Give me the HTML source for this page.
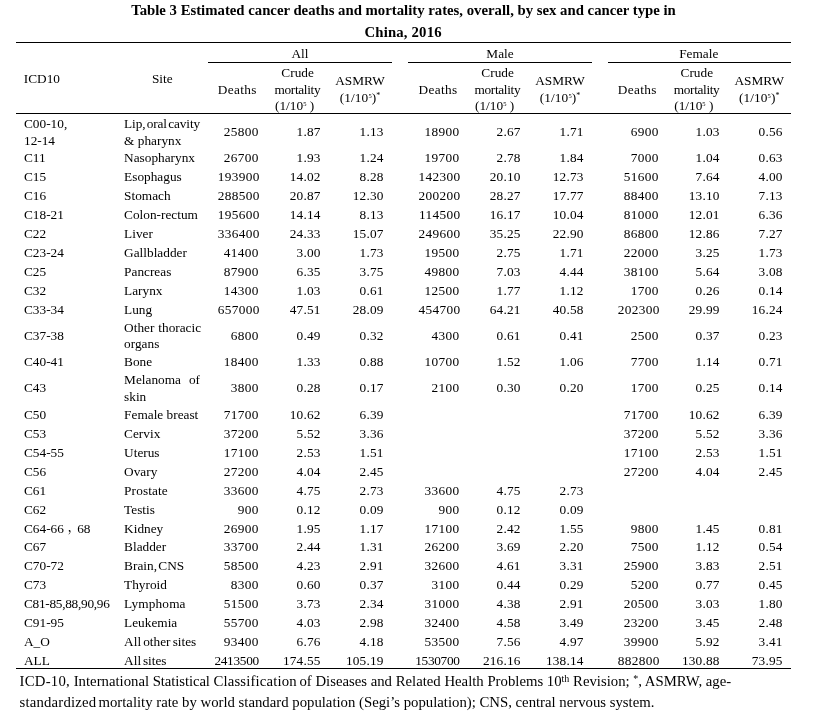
<!DOCTYPE html>
<html><head><meta charset="utf-8"><title>Table 3</title>
<style>
html,body{margin:0;padding:0;background:#fff;}
body{width:815px;height:718px;position:relative;overflow:hidden;font-family:"Liberation Serif","Noto Sans CJK SC",serif;color:#000;}
.t{position:absolute;letter-spacing:0;font-size:13.3px;line-height:16px;height:16px;white-space:nowrap;}
.ttl{position:absolute;left:0;width:815px;text-align:center;font-weight:bold;font-size:14.75px;line-height:18px;white-space:nowrap;}
.ft{position:absolute;font-size:14.75px;line-height:18px;white-space:nowrap;}
.r{position:absolute;height:1px;background:#000;}
.cj{font-family:"Noto Serif CJK SC","Noto Sans CJK SC",serif;line-height:0;position:relative;left:3.5px;top:-2.5px;}
.s5{font-size:6.5px;vertical-align:4.4px;line-height:0;}
.sa{font-size:8px;vertical-align:3.8px;line-height:0;}
.sf{font-size:10px;vertical-align:4.2px;line-height:0;}
#w{position:absolute;left:0;top:0;width:815px;height:718px;will-change:transform;}
</style></head><body><div id="w">
<div class="ttl" style="top:1px;left:-4px">Table 3 Estimated cancer deaths and mortality rates, overall, by sex and cancer type in</div>
<div class="ttl" style="top:23px;left:-4.4px;letter-spacing:.17px">China, 2016</div>
<div class="r" style="left:16px;width:775px;top:42px"></div>
<div class="r" style="left:208px;width:184px;top:62px"></div>
<div class="r" style="left:408px;width:184px;top:62px"></div>
<div class="r" style="left:608px;width:183px;top:62px"></div>
<div class="r" style="left:16px;width:775px;top:113px"></div>
<div class="r" style="left:16px;width:775px;top:668px"></div>
<div class="t" style="left:24.0px;top:116px;">C00-10,</div>
<div class="t" style="left:24.0px;top:133px;">12-14</div>
<div class="t" style="left:124.1px;top:116px;letter-spacing:-0.13px;word-spacing:-1.8px;">Lip, oral cavity</div>
<div class="t" style="left:124.1px;top:133px;">&amp; pharynx</div>
<div class="t" style="right:556.2px;top:124px;letter-spacing:0.35px;">25800</div>
<div class="t" style="right:494.35px;top:124px;letter-spacing:0.2px;">1.87</div>
<div class="t" style="right:431.35px;top:124px;letter-spacing:0.2px;">1.13</div>
<div class="t" style="right:355.4px;top:124px;letter-spacing:0.35px;">18900</div>
<div class="t" style="right:294.35px;top:124px;letter-spacing:0.2px;">2.67</div>
<div class="t" style="right:231.35px;top:124px;letter-spacing:0.2px;">1.71</div>
<div class="t" style="right:156.2px;top:124px;letter-spacing:0.35px;">6900</div>
<div class="t" style="right:95.35px;top:124px;letter-spacing:0.2px;">1.03</div>
<div class="t" style="right:32.35px;top:124px;letter-spacing:0.2px;">0.56</div>
<div class="t" style="left:24.0px;top:150px;">C11</div>
<div class="t" style="left:124.1px;top:150px;">Nasopharynx</div>
<div class="t" style="right:556.2px;top:150px;letter-spacing:0.35px;">26700</div>
<div class="t" style="right:494.35px;top:150px;letter-spacing:0.2px;">1.93</div>
<div class="t" style="right:431.35px;top:150px;letter-spacing:0.2px;">1.24</div>
<div class="t" style="right:355.4px;top:150px;letter-spacing:0.35px;">19700</div>
<div class="t" style="right:294.35px;top:150px;letter-spacing:0.2px;">2.78</div>
<div class="t" style="right:231.35px;top:150px;letter-spacing:0.2px;">1.84</div>
<div class="t" style="right:156.2px;top:150px;letter-spacing:0.35px;">7000</div>
<div class="t" style="right:95.35px;top:150px;letter-spacing:0.2px;">1.04</div>
<div class="t" style="right:32.35px;top:150px;letter-spacing:0.2px;">0.63</div>
<div class="t" style="left:24.0px;top:169px;">C15</div>
<div class="t" style="left:124.1px;top:169px;">Esophagus</div>
<div class="t" style="right:555.2px;top:169px;letter-spacing:0.35px;">193900</div>
<div class="t" style="right:494.35px;top:169px;letter-spacing:0.2px;">14.02</div>
<div class="t" style="right:431.35px;top:169px;letter-spacing:0.2px;">8.28</div>
<div class="t" style="right:354.4px;top:169px;letter-spacing:0.35px;">142300</div>
<div class="t" style="right:294.35px;top:169px;letter-spacing:0.2px;">20.10</div>
<div class="t" style="right:231.35px;top:169px;letter-spacing:0.2px;">12.73</div>
<div class="t" style="right:156.2px;top:169px;letter-spacing:0.35px;">51600</div>
<div class="t" style="right:95.35px;top:169px;letter-spacing:0.2px;">7.64</div>
<div class="t" style="right:32.35px;top:169px;letter-spacing:0.2px;">4.00</div>
<div class="t" style="left:24.0px;top:188px;">C16</div>
<div class="t" style="left:124.1px;top:188px;">Stomach</div>
<div class="t" style="right:555.2px;top:188px;letter-spacing:0.35px;">288500</div>
<div class="t" style="right:494.35px;top:188px;letter-spacing:0.2px;">20.87</div>
<div class="t" style="right:431.35px;top:188px;letter-spacing:0.2px;">12.30</div>
<div class="t" style="right:354.4px;top:188px;letter-spacing:0.35px;">200200</div>
<div class="t" style="right:294.35px;top:188px;letter-spacing:0.2px;">28.27</div>
<div class="t" style="right:231.35px;top:188px;letter-spacing:0.2px;">17.77</div>
<div class="t" style="right:156.2px;top:188px;letter-spacing:0.35px;">88400</div>
<div class="t" style="right:95.35px;top:188px;letter-spacing:0.2px;">13.10</div>
<div class="t" style="right:32.35px;top:188px;letter-spacing:0.2px;">7.13</div>
<div class="t" style="left:24.0px;top:207px;">C18-21</div>
<div class="t" style="left:124.1px;top:207px;">Colon-rectum</div>
<div class="t" style="right:555.2px;top:207px;letter-spacing:0.35px;">195600</div>
<div class="t" style="right:494.35px;top:207px;letter-spacing:0.2px;">14.14</div>
<div class="t" style="right:431.35px;top:207px;letter-spacing:0.2px;">8.13</div>
<div class="t" style="right:354.4px;top:207px;letter-spacing:0.35px;">114500</div>
<div class="t" style="right:294.35px;top:207px;letter-spacing:0.2px;">16.17</div>
<div class="t" style="right:231.35px;top:207px;letter-spacing:0.2px;">10.04</div>
<div class="t" style="right:156.2px;top:207px;letter-spacing:0.35px;">81000</div>
<div class="t" style="right:95.35px;top:207px;letter-spacing:0.2px;">12.01</div>
<div class="t" style="right:32.35px;top:207px;letter-spacing:0.2px;">6.36</div>
<div class="t" style="left:24.0px;top:226px;">C22</div>
<div class="t" style="left:124.1px;top:226px;">Liver</div>
<div class="t" style="right:555.2px;top:226px;letter-spacing:0.35px;">336400</div>
<div class="t" style="right:494.35px;top:226px;letter-spacing:0.2px;">24.33</div>
<div class="t" style="right:431.35px;top:226px;letter-spacing:0.2px;">15.07</div>
<div class="t" style="right:354.4px;top:226px;letter-spacing:0.35px;">249600</div>
<div class="t" style="right:294.35px;top:226px;letter-spacing:0.2px;">35.25</div>
<div class="t" style="right:231.35px;top:226px;letter-spacing:0.2px;">22.90</div>
<div class="t" style="right:156.2px;top:226px;letter-spacing:0.35px;">86800</div>
<div class="t" style="right:95.35px;top:226px;letter-spacing:0.2px;">12.86</div>
<div class="t" style="right:32.35px;top:226px;letter-spacing:0.2px;">7.27</div>
<div class="t" style="left:24.0px;top:245px;">C23-24</div>
<div class="t" style="left:124.1px;top:245px;">Gallbladder</div>
<div class="t" style="right:556.2px;top:245px;letter-spacing:0.35px;">41400</div>
<div class="t" style="right:494.35px;top:245px;letter-spacing:0.2px;">3.00</div>
<div class="t" style="right:431.35px;top:245px;letter-spacing:0.2px;">1.73</div>
<div class="t" style="right:355.4px;top:245px;letter-spacing:0.35px;">19500</div>
<div class="t" style="right:294.35px;top:245px;letter-spacing:0.2px;">2.75</div>
<div class="t" style="right:231.35px;top:245px;letter-spacing:0.2px;">1.71</div>
<div class="t" style="right:156.2px;top:245px;letter-spacing:0.35px;">22000</div>
<div class="t" style="right:95.35px;top:245px;letter-spacing:0.2px;">3.25</div>
<div class="t" style="right:32.35px;top:245px;letter-spacing:0.2px;">1.73</div>
<div class="t" style="left:24.0px;top:264px;">C25</div>
<div class="t" style="left:124.1px;top:264px;">Pancreas</div>
<div class="t" style="right:556.2px;top:264px;letter-spacing:0.35px;">87900</div>
<div class="t" style="right:494.35px;top:264px;letter-spacing:0.2px;">6.35</div>
<div class="t" style="right:431.35px;top:264px;letter-spacing:0.2px;">3.75</div>
<div class="t" style="right:355.4px;top:264px;letter-spacing:0.35px;">49800</div>
<div class="t" style="right:294.35px;top:264px;letter-spacing:0.2px;">7.03</div>
<div class="t" style="right:231.35px;top:264px;letter-spacing:0.2px;">4.44</div>
<div class="t" style="right:156.2px;top:264px;letter-spacing:0.35px;">38100</div>
<div class="t" style="right:95.35px;top:264px;letter-spacing:0.2px;">5.64</div>
<div class="t" style="right:32.35px;top:264px;letter-spacing:0.2px;">3.08</div>
<div class="t" style="left:24.0px;top:283px;">C32</div>
<div class="t" style="left:124.1px;top:283px;">Larynx</div>
<div class="t" style="right:556.2px;top:283px;letter-spacing:0.35px;">14300</div>
<div class="t" style="right:494.35px;top:283px;letter-spacing:0.2px;">1.03</div>
<div class="t" style="right:431.35px;top:283px;letter-spacing:0.2px;">0.61</div>
<div class="t" style="right:355.4px;top:283px;letter-spacing:0.35px;">12500</div>
<div class="t" style="right:294.35px;top:283px;letter-spacing:0.2px;">1.77</div>
<div class="t" style="right:231.35px;top:283px;letter-spacing:0.2px;">1.12</div>
<div class="t" style="right:156.2px;top:283px;letter-spacing:0.35px;">1700</div>
<div class="t" style="right:95.35px;top:283px;letter-spacing:0.2px;">0.26</div>
<div class="t" style="right:32.35px;top:283px;letter-spacing:0.2px;">0.14</div>
<div class="t" style="left:24.0px;top:302px;">C33-34</div>
<div class="t" style="left:124.1px;top:302px;">Lung</div>
<div class="t" style="right:555.2px;top:302px;letter-spacing:0.35px;">657000</div>
<div class="t" style="right:494.35px;top:302px;letter-spacing:0.2px;">47.51</div>
<div class="t" style="right:431.35px;top:302px;letter-spacing:0.2px;">28.09</div>
<div class="t" style="right:354.4px;top:302px;letter-spacing:0.35px;">454700</div>
<div class="t" style="right:294.35px;top:302px;letter-spacing:0.2px;">64.21</div>
<div class="t" style="right:231.35px;top:302px;letter-spacing:0.2px;">40.58</div>
<div class="t" style="right:155.2px;top:302px;letter-spacing:0.35px;">202300</div>
<div class="t" style="right:95.35px;top:302px;letter-spacing:0.2px;">29.99</div>
<div class="t" style="right:32.35px;top:302px;letter-spacing:0.2px;">16.24</div>
<div class="t" style="left:24.0px;top:328px;">C37-38</div>
<div class="t" style="left:124.1px;top:320px;word-spacing:0.6px;">Other thoracic</div>
<div class="t" style="left:124.1px;top:336px;">organs</div>
<div class="t" style="right:556.2px;top:328px;letter-spacing:0.35px;">6800</div>
<div class="t" style="right:494.35px;top:328px;letter-spacing:0.2px;">0.49</div>
<div class="t" style="right:431.35px;top:328px;letter-spacing:0.2px;">0.32</div>
<div class="t" style="right:355.4px;top:328px;letter-spacing:0.35px;">4300</div>
<div class="t" style="right:294.35px;top:328px;letter-spacing:0.2px;">0.61</div>
<div class="t" style="right:231.35px;top:328px;letter-spacing:0.2px;">0.41</div>
<div class="t" style="right:156.2px;top:328px;letter-spacing:0.35px;">2500</div>
<div class="t" style="right:95.35px;top:328px;letter-spacing:0.2px;">0.37</div>
<div class="t" style="right:32.35px;top:328px;letter-spacing:0.2px;">0.23</div>
<div class="t" style="left:24.0px;top:354px;">C40-41</div>
<div class="t" style="left:124.1px;top:354px;">Bone</div>
<div class="t" style="right:556.2px;top:354px;letter-spacing:0.35px;">18400</div>
<div class="t" style="right:494.35px;top:354px;letter-spacing:0.2px;">1.33</div>
<div class="t" style="right:431.35px;top:354px;letter-spacing:0.2px;">0.88</div>
<div class="t" style="right:355.4px;top:354px;letter-spacing:0.35px;">10700</div>
<div class="t" style="right:294.35px;top:354px;letter-spacing:0.2px;">1.52</div>
<div class="t" style="right:231.35px;top:354px;letter-spacing:0.2px;">1.06</div>
<div class="t" style="right:156.2px;top:354px;letter-spacing:0.35px;">7700</div>
<div class="t" style="right:95.35px;top:354px;letter-spacing:0.2px;">1.14</div>
<div class="t" style="right:32.35px;top:354px;letter-spacing:0.2px;">0.71</div>
<div class="t" style="left:24.0px;top:380px;">C43</div>
<div class="t" style="left:124.1px;top:372px;word-spacing:4.65px;">Melanoma of</div>
<div class="t" style="left:124.1px;top:389px;">skin</div>
<div class="t" style="right:556.2px;top:380px;letter-spacing:0.35px;">3800</div>
<div class="t" style="right:494.35px;top:380px;letter-spacing:0.2px;">0.28</div>
<div class="t" style="right:431.35px;top:380px;letter-spacing:0.2px;">0.17</div>
<div class="t" style="right:355.4px;top:380px;letter-spacing:0.35px;">2100</div>
<div class="t" style="right:294.35px;top:380px;letter-spacing:0.2px;">0.30</div>
<div class="t" style="right:231.35px;top:380px;letter-spacing:0.2px;">0.20</div>
<div class="t" style="right:156.2px;top:380px;letter-spacing:0.35px;">1700</div>
<div class="t" style="right:95.35px;top:380px;letter-spacing:0.2px;">0.25</div>
<div class="t" style="right:32.35px;top:380px;letter-spacing:0.2px;">0.14</div>
<div class="t" style="left:24.0px;top:407px;">C50</div>
<div class="t" style="left:124.1px;top:407px;">Female breast</div>
<div class="t" style="right:556.2px;top:407px;letter-spacing:0.35px;">71700</div>
<div class="t" style="right:494.35px;top:407px;letter-spacing:0.2px;">10.62</div>
<div class="t" style="right:431.35px;top:407px;letter-spacing:0.2px;">6.39</div>
<div class="t" style="right:156.2px;top:407px;letter-spacing:0.35px;">71700</div>
<div class="t" style="right:95.35px;top:407px;letter-spacing:0.2px;">10.62</div>
<div class="t" style="right:32.35px;top:407px;letter-spacing:0.2px;">6.39</div>
<div class="t" style="left:24.0px;top:426px;">C53</div>
<div class="t" style="left:124.1px;top:426px;">Cervix</div>
<div class="t" style="right:556.2px;top:426px;letter-spacing:0.35px;">37200</div>
<div class="t" style="right:494.35px;top:426px;letter-spacing:0.2px;">5.52</div>
<div class="t" style="right:431.35px;top:426px;letter-spacing:0.2px;">3.36</div>
<div class="t" style="right:156.2px;top:426px;letter-spacing:0.35px;">37200</div>
<div class="t" style="right:95.35px;top:426px;letter-spacing:0.2px;">5.52</div>
<div class="t" style="right:32.35px;top:426px;letter-spacing:0.2px;">3.36</div>
<div class="t" style="left:24.0px;top:445px;">C54-55</div>
<div class="t" style="left:124.1px;top:445px;">Uterus</div>
<div class="t" style="right:556.2px;top:445px;letter-spacing:0.35px;">17100</div>
<div class="t" style="right:494.35px;top:445px;letter-spacing:0.2px;">2.53</div>
<div class="t" style="right:431.35px;top:445px;letter-spacing:0.2px;">1.51</div>
<div class="t" style="right:156.2px;top:445px;letter-spacing:0.35px;">17100</div>
<div class="t" style="right:95.35px;top:445px;letter-spacing:0.2px;">2.53</div>
<div class="t" style="right:32.35px;top:445px;letter-spacing:0.2px;">1.51</div>
<div class="t" style="left:24.0px;top:464px;">C56</div>
<div class="t" style="left:124.1px;top:464px;">Ovary</div>
<div class="t" style="right:556.2px;top:464px;letter-spacing:0.35px;">27200</div>
<div class="t" style="right:494.35px;top:464px;letter-spacing:0.2px;">4.04</div>
<div class="t" style="right:431.35px;top:464px;letter-spacing:0.2px;">2.45</div>
<div class="t" style="right:156.2px;top:464px;letter-spacing:0.35px;">27200</div>
<div class="t" style="right:95.35px;top:464px;letter-spacing:0.2px;">4.04</div>
<div class="t" style="right:32.35px;top:464px;letter-spacing:0.2px;">2.45</div>
<div class="t" style="left:24.0px;top:483px;">C61</div>
<div class="t" style="left:124.1px;top:483px;letter-spacing:.12px;">Prostate</div>
<div class="t" style="right:556.2px;top:483px;letter-spacing:0.35px;">33600</div>
<div class="t" style="right:494.35px;top:483px;letter-spacing:0.2px;">4.75</div>
<div class="t" style="right:431.35px;top:483px;letter-spacing:0.2px;">2.73</div>
<div class="t" style="right:355.4px;top:483px;letter-spacing:0.35px;">33600</div>
<div class="t" style="right:294.35px;top:483px;letter-spacing:0.2px;">4.75</div>
<div class="t" style="right:231.35px;top:483px;letter-spacing:0.2px;">2.73</div>
<div class="t" style="left:24.0px;top:502px;">C62</div>
<div class="t" style="left:124.1px;top:502px;">Testis</div>
<div class="t" style="right:556.2px;top:502px;letter-spacing:0.35px;">900</div>
<div class="t" style="right:494.35px;top:502px;letter-spacing:0.2px;">0.12</div>
<div class="t" style="right:431.35px;top:502px;letter-spacing:0.2px;">0.09</div>
<div class="t" style="right:355.4px;top:502px;letter-spacing:0.35px;">900</div>
<div class="t" style="right:294.35px;top:502px;letter-spacing:0.2px;">0.12</div>
<div class="t" style="right:231.35px;top:502px;letter-spacing:0.2px;">0.09</div>
<div class="t" style="left:24.0px;top:521px;">C64-66<span class="cj">，</span>68</div>
<div class="t" style="left:124.1px;top:521px;">Kidney</div>
<div class="t" style="right:556.2px;top:521px;letter-spacing:0.35px;">26900</div>
<div class="t" style="right:494.35px;top:521px;letter-spacing:0.2px;">1.95</div>
<div class="t" style="right:431.35px;top:521px;letter-spacing:0.2px;">1.17</div>
<div class="t" style="right:355.4px;top:521px;letter-spacing:0.35px;">17100</div>
<div class="t" style="right:294.35px;top:521px;letter-spacing:0.2px;">2.42</div>
<div class="t" style="right:231.35px;top:521px;letter-spacing:0.2px;">1.55</div>
<div class="t" style="right:156.2px;top:521px;letter-spacing:0.35px;">9800</div>
<div class="t" style="right:95.35px;top:521px;letter-spacing:0.2px;">1.45</div>
<div class="t" style="right:32.35px;top:521px;letter-spacing:0.2px;">0.81</div>
<div class="t" style="left:24.0px;top:539px;">C67</div>
<div class="t" style="left:124.1px;top:539px;">Bladder</div>
<div class="t" style="right:556.2px;top:539px;letter-spacing:0.35px;">33700</div>
<div class="t" style="right:494.35px;top:539px;letter-spacing:0.2px;">2.44</div>
<div class="t" style="right:431.35px;top:539px;letter-spacing:0.2px;">1.31</div>
<div class="t" style="right:355.4px;top:539px;letter-spacing:0.35px;">26200</div>
<div class="t" style="right:294.35px;top:539px;letter-spacing:0.2px;">3.69</div>
<div class="t" style="right:231.35px;top:539px;letter-spacing:0.2px;">2.20</div>
<div class="t" style="right:156.2px;top:539px;letter-spacing:0.35px;">7500</div>
<div class="t" style="right:95.35px;top:539px;letter-spacing:0.2px;">1.12</div>
<div class="t" style="right:32.35px;top:539px;letter-spacing:0.2px;">0.54</div>
<div class="t" style="left:24.0px;top:558px;">C70-72</div>
<div class="t" style="left:124.1px;top:558px;word-spacing:-2px;">Brain, CNS</div>
<div class="t" style="right:556.2px;top:558px;letter-spacing:0.35px;">58500</div>
<div class="t" style="right:494.35px;top:558px;letter-spacing:0.2px;">4.23</div>
<div class="t" style="right:431.35px;top:558px;letter-spacing:0.2px;">2.91</div>
<div class="t" style="right:355.4px;top:558px;letter-spacing:0.35px;">32600</div>
<div class="t" style="right:294.35px;top:558px;letter-spacing:0.2px;">4.61</div>
<div class="t" style="right:231.35px;top:558px;letter-spacing:0.2px;">3.31</div>
<div class="t" style="right:156.2px;top:558px;letter-spacing:0.35px;">25900</div>
<div class="t" style="right:95.35px;top:558px;letter-spacing:0.2px;">3.83</div>
<div class="t" style="right:32.35px;top:558px;letter-spacing:0.2px;">2.51</div>
<div class="t" style="left:24.0px;top:577px;">C73</div>
<div class="t" style="left:124.1px;top:577px;">Thyroid</div>
<div class="t" style="right:556.2px;top:577px;letter-spacing:0.35px;">8300</div>
<div class="t" style="right:494.35px;top:577px;letter-spacing:0.2px;">0.60</div>
<div class="t" style="right:431.35px;top:577px;letter-spacing:0.2px;">0.37</div>
<div class="t" style="right:355.4px;top:577px;letter-spacing:0.35px;">3100</div>
<div class="t" style="right:294.35px;top:577px;letter-spacing:0.2px;">0.44</div>
<div class="t" style="right:231.35px;top:577px;letter-spacing:0.2px;">0.29</div>
<div class="t" style="right:156.2px;top:577px;letter-spacing:0.35px;">5200</div>
<div class="t" style="right:95.35px;top:577px;letter-spacing:0.2px;">0.77</div>
<div class="t" style="right:32.35px;top:577px;letter-spacing:0.2px;">0.45</div>
<div class="t" style="left:24.0px;top:596px;letter-spacing:-0.28px;">C81-85,88,90,96</div>
<div class="t" style="left:124.1px;top:596px;letter-spacing:.12px;">Lymphoma</div>
<div class="t" style="right:556.2px;top:596px;letter-spacing:0.35px;">51500</div>
<div class="t" style="right:494.35px;top:596px;letter-spacing:0.2px;">3.73</div>
<div class="t" style="right:431.35px;top:596px;letter-spacing:0.2px;">2.34</div>
<div class="t" style="right:355.4px;top:596px;letter-spacing:0.35px;">31000</div>
<div class="t" style="right:294.35px;top:596px;letter-spacing:0.2px;">4.38</div>
<div class="t" style="right:231.35px;top:596px;letter-spacing:0.2px;">2.91</div>
<div class="t" style="right:156.2px;top:596px;letter-spacing:0.35px;">20500</div>
<div class="t" style="right:95.35px;top:596px;letter-spacing:0.2px;">3.03</div>
<div class="t" style="right:32.35px;top:596px;letter-spacing:0.2px;">1.80</div>
<div class="t" style="left:24.0px;top:615px;">C91-95</div>
<div class="t" style="left:124.1px;top:615px;">Leukemia</div>
<div class="t" style="right:556.2px;top:615px;letter-spacing:0.35px;">55700</div>
<div class="t" style="right:494.35px;top:615px;letter-spacing:0.2px;">4.03</div>
<div class="t" style="right:431.35px;top:615px;letter-spacing:0.2px;">2.98</div>
<div class="t" style="right:355.4px;top:615px;letter-spacing:0.35px;">32400</div>
<div class="t" style="right:294.35px;top:615px;letter-spacing:0.2px;">4.58</div>
<div class="t" style="right:231.35px;top:615px;letter-spacing:0.2px;">3.49</div>
<div class="t" style="right:156.2px;top:615px;letter-spacing:0.35px;">23200</div>
<div class="t" style="right:95.35px;top:615px;letter-spacing:0.2px;">3.45</div>
<div class="t" style="right:32.35px;top:615px;letter-spacing:0.2px;">2.48</div>
<div class="t" style="left:24.0px;top:634px;">A_O</div>
<div class="t" style="left:124.1px;top:634px;word-spacing:-1.2px;">All other sites</div>
<div class="t" style="right:556.2px;top:634px;letter-spacing:0.35px;">93400</div>
<div class="t" style="right:494.35px;top:634px;letter-spacing:0.2px;">6.76</div>
<div class="t" style="right:431.35px;top:634px;letter-spacing:0.2px;">4.18</div>
<div class="t" style="right:355.4px;top:634px;letter-spacing:0.35px;">53500</div>
<div class="t" style="right:294.35px;top:634px;letter-spacing:0.2px;">7.56</div>
<div class="t" style="right:231.35px;top:634px;letter-spacing:0.2px;">4.97</div>
<div class="t" style="right:156.2px;top:634px;letter-spacing:0.35px;">39900</div>
<div class="t" style="right:95.35px;top:634px;letter-spacing:0.2px;">5.92</div>
<div class="t" style="right:32.35px;top:634px;letter-spacing:0.2px;">3.41</div>
<div class="t" style="left:24.0px;top:653px;">ALL</div>
<div class="t" style="left:124.1px;top:653px;word-spacing:-1.5px;">All sites</div>
<div class="t" style="right:556.15px;top:653px;letter-spacing:-0.3px;">2413500</div>
<div class="t" style="right:494.35px;top:653px;letter-spacing:0.2px;">174.55</div>
<div class="t" style="right:431.35px;top:653px;letter-spacing:0.2px;">105.19</div>
<div class="t" style="right:355.35px;top:653px;letter-spacing:-0.3px;">1530700</div>
<div class="t" style="right:294.35px;top:653px;letter-spacing:0.2px;">216.16</div>
<div class="t" style="right:231.35px;top:653px;letter-spacing:0.2px;">138.14</div>
<div class="t" style="right:155.2px;top:653px;letter-spacing:0.35px;">882800</div>
<div class="t" style="right:95.35px;top:653px;letter-spacing:0.2px;">130.88</div>
<div class="t" style="right:32.35px;top:653px;letter-spacing:0.2px;">73.95</div>
<div class="t" style="left:200px;width:200px;text-align:center;top:46px;">All</div>
<div class="t" style="left:137.2px;width:200px;text-align:center;top:82px;letter-spacing:0.33px;">Deaths</div>
<div class="t" style="left:197.6px;width:200px;text-align:center;top:65px;">Crude</div>
<div class="t" style="left:197.4px;width:200px;text-align:center;top:82px;letter-spacing:-0.35px;">mortality</div>
<div class="t" style="left:194.6px;width:200px;text-align:center;top:98px;">(1/10<span class="s5">5</span> )</div>
<div class="t" style="left:260px;width:200px;text-align:center;top:73px;">ASMRW</div>
<div class="t" style="left:260.1px;width:200px;text-align:center;top:90px;letter-spacing:0.12px;">(1/10<span class="s5">5</span>)<span class="sa">*</span></div>
<div class="t" style="left:400px;width:200px;text-align:center;top:46px;">Male</div>
<div class="t" style="left:338.0px;width:200px;text-align:center;top:82px;letter-spacing:0.33px;">Deaths</div>
<div class="t" style="left:397.6px;width:200px;text-align:center;top:65px;">Crude</div>
<div class="t" style="left:397.4px;width:200px;text-align:center;top:82px;letter-spacing:-0.35px;">mortality</div>
<div class="t" style="left:394.6px;width:200px;text-align:center;top:98px;">(1/10<span class="s5">5</span> )</div>
<div class="t" style="left:460px;width:200px;text-align:center;top:73px;">ASMRW</div>
<div class="t" style="left:460.1px;width:200px;text-align:center;top:90px;letter-spacing:0.12px;">(1/10<span class="s5">5</span>)<span class="sa">*</span></div>
<div class="t" style="left:598.8px;width:200px;text-align:center;top:46px;">Female</div>
<div class="t" style="left:537.2px;width:200px;text-align:center;top:82px;letter-spacing:0.33px;">Deaths</div>
<div class="t" style="left:596.8px;width:200px;text-align:center;top:65px;">Crude</div>
<div class="t" style="left:596.6px;width:200px;text-align:center;top:82px;letter-spacing:-0.35px;">mortality</div>
<div class="t" style="left:593.8px;width:200px;text-align:center;top:98px;">(1/10<span class="s5">5</span> )</div>
<div class="t" style="left:659.2px;width:200px;text-align:center;top:73px;">ASMRW</div>
<div class="t" style="left:659.3px;width:200px;text-align:center;top:90px;letter-spacing:0.12px;">(1/10<span class="s5">5</span>)<span class="sa">*</span></div>
<div class="t" style="left:23.8px;top:71px;">ICD10</div>
<div class="t" style="left:62.3px;width:200px;text-align:center;top:71px;">Site</div>
<div class="ft" style="left:19.5px;top:672px"><span style="letter-spacing:.25px">ICD-10,</span> International <span style="letter-spacing:-.1px">Statistical</span> <span style="letter-spacing:.15px">Classification</span><span style="word-spacing:-1px"> </span>of Diseases and Related Health Problems 10<span class="sf">th</span> Revision; <span class="sf">*</span>, ASMRW, age-</div>
<div class="ft" style="left:19.5px;top:693px"><span style="letter-spacing:.19px">standardized</span><span style="word-spacing:-1.5px"> </span>mortality rate by world standard population (Segi’s population); CNS, central nervous system.</div>
</div></body></html>
